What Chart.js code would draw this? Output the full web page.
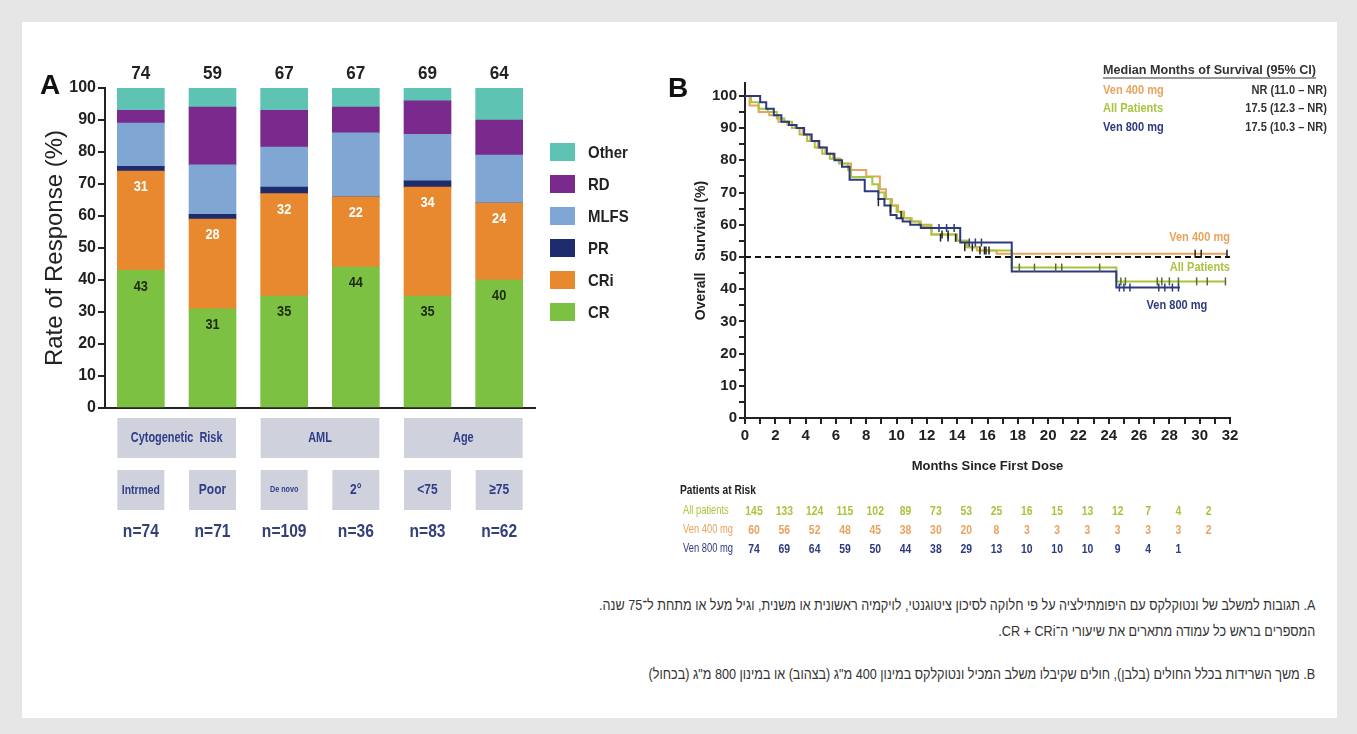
<!DOCTYPE html>
<html>
<head>
<meta charset="utf-8">
<script src="https://cdn.jsdelivr.net/npm/chart.js@4.4.0/dist/chart.umd.min.js"></script>
<style>
body { margin:0; background:#e6e6e6; width:1357px; height:734px; overflow:hidden; position:relative; }
#card { position:absolute; left:22px; top:22px; width:1315px; height:696px; background:#fff; }
#wrapA { position:absolute; left:0; top:40px; }
#wrapB { position:absolute; left:660px; top:40px; }
.cap { position:absolute; right:42px; direction:rtl; text-align:right; font-family:'Liberation Sans', Arial, sans-serif; font-size:14.5px; color:#333; white-space:nowrap; transform:scaleX(0.87); transform-origin:right center; }
</style>
</head>
<body>
<div id="card"></div>
<div id="wrapA"><canvas id="chartA" width="660" height="540"></canvas></div>
<div id="wrapB"><canvas id="chartB" width="690" height="540"></canvas></div>
<div class="cap" style="top:597px">A. תגובות למשלב של ונטוקלקס עם היפומתילציה על פי חלוקה לסיכון ציטוגנטי, לויקמיה ראשונית או משנית, וגיל מעל או מתחת ל־75 שנה.</div>
<div class="cap" style="top:623px">המספרים בראש כל עמודה מתארים את שיעורי ה־CR + CRi.</div>
<div class="cap" style="top:666px">B. משך השרידות בכלל החולים (בלבן), חולים שקיבלו משלב המכיל ונטוקלקס במינון 400 מ"ג (בצהוב) או במינון 800 מ"ג (בכחול)</div>
<script>
// ---- panel A data ----
var categories = ['Intrmed', 'Poor', 'De novo', '2°', '<75', '≥75'];
var groupLabels = ['Cytogenetic  Risk', 'AML', 'Age'];
var nLabels = ['n=74', 'n=71', 'n=109', 'n=36', 'n=83', 'n=62'];
var topTotals = [74, 59, 67, 67, 69, 64]; // CR + CRi
var crValues = [43, 31, 35, 44, 35, 40];
var criValues = [31, 28, 32, 22, 34, 24];
var prValues = [1.5, 1.5, 2, 0, 2, 0];
var mlfsValues = [13.5, 15.5, 12.5, 20, 14.5, 15];
var rdValues = [4, 18, 11.5, 8, 10.5, 11];
var otherValues = [7, 6, 7, 6, 4, 10];

// ---- panel B data ----
var months400 = [0, 0.3, 0.9, 1.6, 2.2, 2.8, 3.3, 3.8, 4.3, 4.8, 5.3, 5.8, 6.3, 7.0, 8.0, 8.9, 9.3, 9.7, 10.1, 10.5, 11.0, 11.6, 12.3, 13.9, 14.6, 15.3, 16.6, 31.8];
var surv400 = [100, 97, 95, 94, 92, 91, 90, 88, 86, 84, 82, 80.5, 79, 77, 75, 71, 68, 66, 64, 62, 61, 59.5, 57, 55, 53, 52, 51, 51];
var monthsAll = [0, 0.4, 0.9, 1.5, 2.1, 2.6, 3.1, 3.6, 4.1, 4.6, 5.1, 5.6, 6.2, 6.8, 7.0, 8.4, 8.8, 9.2, 9.6, 10.0, 10.4, 10.9, 11.5, 12.3, 14.0, 14.7, 15.5, 17.6, 24.5, 31.7];
var survAll = [100, 98, 96, 95, 93, 92, 90, 88, 86, 84, 82, 80.5, 79, 77, 74.8, 72.6, 70, 68, 66, 64, 62, 61, 60, 57, 55, 53, 52, 46.7, 42.4, 42.4];
var months800 = [0, 1.0, 1.4, 1.9, 2.4, 2.9, 3.4, 3.9, 4.4, 4.9, 5.4, 5.9, 6.4, 6.9, 7.9, 8.8, 9.2, 9.6, 10.0, 10.4, 10.9, 11.6, 14.2, 17.6, 24.5, 28.7];
var surv800 = [100, 98, 96, 94, 92, 91, 90, 88, 86, 84, 82, 80, 78, 74, 70.4, 68, 66, 63, 62, 61, 60, 59, 54.5, 45.5, 40.5, 40.5];

var cens400Months = [13.0, 13.4, 15.8, 16.1, 29.7, 30.1, 31.8];
var cens400Surv = [57, 57, 52, 52, 51, 51, 51];
var censAllMonths = [18.1, 19.1, 20.5, 20.9, 23.4, 24.8, 25.1, 27.2, 27.5, 28.0, 28.6, 29.8, 30.5, 31.7];
var censAllSurv = [46.7, 46.7, 46.7, 46.7, 46.7, 42.4, 42.4, 42.4, 42.4, 42.4, 42.4, 42.4, 42.4, 42.4];
var cens800Months = [12.8, 13.3, 13.8, 14.8, 15.2, 15.6, 24.7, 25.0, 25.4, 27.3, 27.7, 28.2, 28.6];
var cens800Surv = [59, 59, 59, 54.5, 54.5, 54.5, 40.5, 40.5, 40.5, 40.5, 40.5, 40.5, 40.5];
var censBlackMonths = [8.8, 9.6, 10.3, 12.9, 13.4, 13.9, 14.5, 15.0, 15.5, 15.9];
var censBlackSurv = [67, 65, 63, 56, 56, 56, 53, 53, 52, 52];

var riskMonths = [0, 2, 4, 6, 8, 10, 12, 14, 16, 18, 20, 22, 24, 26, 28, 30];
var riskAll = [145, 133, 124, 115, 102, 89, 73, 53, 25, 16, 15, 13, 12, 7, 4, 2];
var risk400 = [60, 56, 52, 48, 45, 38, 30, 20, 8, 3, 3, 3, 3, 3, 3, 2];
var risk800 = [74, 69, 64, 59, 50, 44, 38, 29, 13, 10, 10, 10, 9, 4, 1];

var medianRows = ['Ven 400 mg', 'All Patients', 'Ven 800 mg'];
var medianValues = ['NR (11.0 – NR)', '17.5 (12.3 – NR)', '17.5 (10.3 – NR)'];

var sans = "'Liberation Sans', Arial, sans-serif";
Chart.defaults.font.family = sans;
Chart.defaults.color = '#222';

var col400 = '#e9a35c', colAll = '#a9c43e', col800 = '#2d3a80';

function pts(xs, ys) {
  return xs.map(function (x, i) { return { x: x, y: ys[i] }; });
}

// squeezed text, the original uses a narrow face
function condText(ctx, text, x, y, sx) {
  ctx.save();
  ctx.translate(x, y);
  ctx.scale(sx, 1);
  ctx.fillText(text, 0, 0);
  ctx.restore();
}

// ---------- panel A ----------
var panelA = {
  id: 'panelA',
  afterDraw: function (chart) {
    var ctx = chart.ctx, area = chart.chartArea;
    var mCR = chart.getDatasetMeta(0), mCRi = chart.getDatasetMeta(1);
    ctx.save();
    ctx.textAlign = 'center';
    ctx.textBaseline = 'middle';
    mCR.data.forEach(function (bar, i) {
      ctx.font = 'bold 15px ' + sans;
      ctx.fillStyle = '#1d2a14';
      condText(ctx, crValues[i], bar.x, bar.y + 16, 0.85);
      ctx.fillStyle = '#fff';
      condText(ctx, criValues[i], mCRi.data[i].x, mCRi.data[i].y + 16, 0.85);
      ctx.font = 'bold 19px ' + sans;
      ctx.fillStyle = '#222';
      condText(ctx, topTotals[i], bar.x, area.top - 14, 0.9);
    });
    // category boxes
    var half = mCR.data[0].width / 2;
    ctx.fillStyle = '#cfd2dc';
    groupLabels.forEach(function (g, k) {
      var l = mCR.data[2 * k].x - half, r = mCR.data[2 * k + 1].x + half;
      ctx.fillRect(l, 378, r - l, 40);
    });
    mCR.data.forEach(function (bar) {
      ctx.fillRect(bar.x - half, 430, half * 2, 40);
    });
    ctx.fillStyle = '#2f3c88';
    ctx.font = 'bold 14px ' + sans;
    groupLabels.forEach(function (g, k) {
      var l = mCR.data[2 * k].x - half, r = mCR.data[2 * k + 1].x + half;
      condText(ctx, g, (l + r) / 2, 398, 0.78);
    });
    mCR.data.forEach(function (bar, i) {
      ctx.font = (i === 2 ? 'bold 9px ' : i === 0 ? 'bold 13px ' : 'bold 15px ') + sans;
      condText(ctx, categories[i], bar.x, 450, 0.8);
      ctx.font = 'bold 19px ' + sans;
      ctx.fillStyle = '#34407a';
      condText(ctx, nLabels[i], bar.x, 492, 0.82);
      ctx.fillStyle = '#2f3c88';
    });
    // legend
    ctx.textAlign = 'left';
    ctx.font = 'bold 17px ' + sans;
    var sets = chart.data.datasets.slice().reverse();
    sets.forEach(function (ds, k) {
      var y = 112 + k * 32;
      ctx.fillStyle = ds.backgroundColor;
      ctx.fillRect(550, y - 9, 25, 18);
      ctx.fillStyle = '#222';
      condText(ctx, ds.label, 588, y + 1, 0.88);
    });
    ctx.font = 'bold 28px ' + sans;
    ctx.fillStyle = '#111';
    ctx.fillText('A', 40, 46);
    ctx.restore();
  }
};

new Chart(document.getElementById('chartA'), {
  type: 'bar',
  data: {
    labels: categories,
    datasets: [
      { label: 'CR', data: crValues, backgroundColor: '#7cc142' },
      { label: 'CRi', data: criValues, backgroundColor: '#e8892f' },
      { label: 'PR', data: prValues, backgroundColor: '#1e2b6d' },
      { label: 'MLFS', data: mlfsValues, backgroundColor: '#80a6d3' },
      { label: 'RD', data: rdValues, backgroundColor: '#7a2a8c' },
      { label: 'Other', data: otherValues, backgroundColor: '#5ec3b2' }
    ]
  },
  options: {
    responsive: false,
    animation: false,
    barThickness: 47,
    layout: { padding: { left: 41, top: 48, right: 125, bottom: 172 } },
    plugins: { legend: { display: false }, tooltip: { enabled: false } },
    scales: {
      x: {
        stacked: true,
        ticks: { display: false },
        grid: { display: false },
        border: { display: true, color: '#222', width: 2 },
        afterFit: function (s) { s.height = 0; }
      },
      y: {
        stacked: true,
        min: 0, max: 100,
        ticks: { stepSize: 10, padding: 2, font: { size: 16, weight: 'bold' }, color: '#222' },
        grid: { drawOnChartArea: false, tickLength: 7, color: '#222', lineWidth: 2 },
        border: { display: true, color: '#222', width: 2 },
        title: { display: true, text: 'Rate of Response (%)', font: { size: 24 }, color: '#222', padding: 0 },
        afterFit: function (s) { s.width = 64; }
      }
    }
  },
  plugins: [panelA]
});

// ---------- panel B ----------
var panelB = {
  id: 'panelB',
  afterDraw: function (chart) {
    var ctx = chart.ctx, xs = chart.scales.x, ys = chart.scales.y;
    ctx.save();
    ctx.textBaseline = 'middle';
    ctx.font = 'bold 28px ' + sans;
    ctx.fillStyle = '#111';
    ctx.textAlign = 'left';
    ctx.fillText('B', 8, 49);

    // median box
    ctx.font = 'bold 13px ' + sans;
    ctx.fillStyle = '#333';
    var title = 'Median Months of Survival (95% CI)';
    var w = ctx.measureText(title).width * 0.97;
    condText(ctx, title, 443, 30, 0.97);
    ctx.strokeStyle = '#333';
    ctx.lineWidth = 1;
    ctx.beginPath(); ctx.moveTo(443, 38); ctx.lineTo(443 + w, 38); ctx.stroke();
    var rowCols = [col400, colAll, col800];
    medianRows.forEach(function (r, k) {
      var y = 50 + k * 18.5;
      ctx.textAlign = 'left';
      ctx.fillStyle = rowCols[k];
      condText(ctx, r, 443, y, 0.85);
      ctx.textAlign = 'right';
      ctx.fillStyle = '#333';
      condText(ctx, medianValues[k], 667, y, 0.85);
    });

    // curve labels
    ctx.font = 'bold 13px ' + sans;
    ctx.textAlign = 'right';
    ctx.fillStyle = col400;
    condText(ctx, 'Ven 400 mg', xs.getPixelForValue(32), ys.getPixelForValue(56), 0.85);
    ctx.fillStyle = colAll;
    condText(ctx, 'All Patients', xs.getPixelForValue(32), ys.getPixelForValue(46.6), 0.85);
    ctx.textAlign = 'center';
    ctx.fillStyle = col800;
    condText(ctx, 'Ven 800 mg', xs.getPixelForValue(28.5), ys.getPixelForValue(35), 0.85);

    // risk table
    ctx.textAlign = 'left';
    ctx.fillStyle = '#222';
    ctx.font = 'bold 12px ' + sans;
    condText(ctx, 'Patients at Risk', 20, 451, 0.85);
    var rows = [['All patients', riskAll, colAll], ['Ven 400 mg', risk400, col400], ['Ven 800 mg', risk800, col800]];
    rows.forEach(function (r, k) {
      var y = 471 + k * 19;
      ctx.textAlign = 'left';
      ctx.fillStyle = r[2];
      ctx.font = '12px ' + sans;
      condText(ctx, r[0], 23, y, 0.78);
      ctx.textAlign = 'center';
      ctx.font = 'bold 13px ' + sans;
      r[1].forEach(function (v, i) {
        condText(ctx, v, xs.getPixelForValue(riskMonths[i]) + 9, y, 0.8);
      });
    });
    ctx.restore();
  }
};

function kmSet(label, xsArr, ysArr, color) {
  return { label: label, data: pts(xsArr, ysArr), borderColor: color, borderWidth: 2, pointRadius: 0, stepped: 'before', fill: false };
}
function censSet(xsArr, ysArr, color) {
  return { label: 'censored', data: pts(xsArr, ysArr), showLine: false, pointStyle: 'line', rotation: 90, pointRadius: 4, borderColor: color, borderWidth: 1.5, backgroundColor: color };
}

new Chart(document.getElementById('chartB'), {
  type: 'line',
  data: {
    datasets: [
      { label: 'median', data: [{ x: 0, y: 50 }, { x: 32, y: 50 }], borderColor: '#111', borderWidth: 2, borderDash: [6, 4], pointRadius: 0 },
      censSet(censBlackMonths, censBlackSurv, '#222'),
      censSet(cens800Months, cens800Surv, col800),
      censSet(cens400Months, cens400Surv, '#222'),
      censSet(censAllMonths, censAllSurv, '#556b2f'),
      kmSet('Ven 800 mg', months800, surv800, col800),
      kmSet('All Patients', monthsAll, survAll, colAll),
      kmSet('Ven 400 mg', months400, surv400, col400)
    ]
  },
  options: {
    responsive: false,
    animation: false,
    layout: { padding: { left: 29, top: 43, right: 120, bottom: 102 } },
    plugins: { legend: { display: false }, tooltip: { enabled: false } },
    scales: {
      x: {
        type: 'linear', min: 0, max: 32,
        ticks: { stepSize: 1, autoSkip: false, maxRotation: 0, padding: 3, font: { size: 15, weight: 'bold' }, color: '#222',
          callback: function (v) { return v % 2 === 0 ? v : ''; } },
        grid: { drawOnChartArea: false, tickLength: 6, color: '#222', lineWidth: 2 },
        border: { display: true, color: '#222', width: 2 },
        title: { display: true, text: 'Months Since First Dose', font: { size: 13, weight: 'bold' }, color: '#222', padding: { top: 0, bottom: 4 } },
        afterFit: function (s) { s.height = 60; }
      },
      y: {
        min: 0, max: 104,
        ticks: { stepSize: 5, includeBounds: false, autoSkip: false, padding: 2, font: { size: 15, weight: 'bold' }, color: '#222',
          callback: function (v) { return v % 10 === 0 ? v : ''; } },
        grid: { drawOnChartArea: false, tickLength: 6, color: '#222', lineWidth: 2 },
        border: { display: true, color: '#222', width: 2 },
        title: { display: true, text: 'Overall   Survival (%)', font: { size: 14, weight: 'bold' }, color: '#222', padding: { top: 4, bottom: 0 } },
        afterFit: function (s) { s.width = 56; }
      }
    }
  },
  plugins: [panelB]
});
</script>
</body>
</html>
